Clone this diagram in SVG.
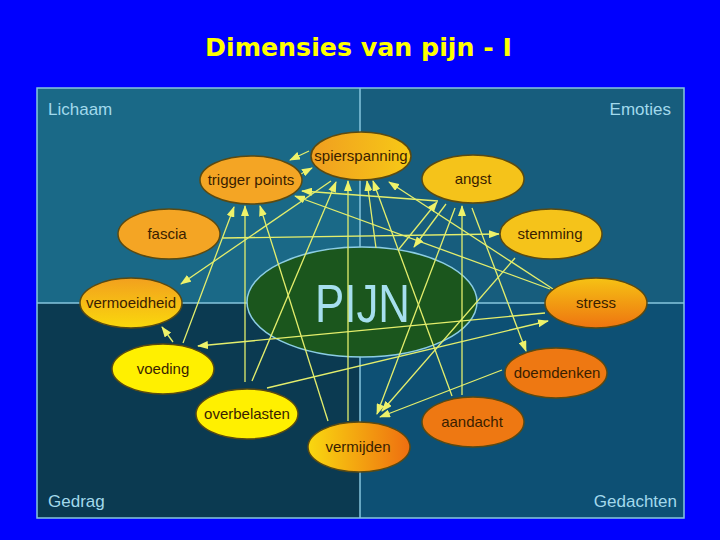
<svg xmlns="http://www.w3.org/2000/svg" width="720" height="540" viewBox="0 0 720 540">
<defs>
<style>
.node ellipse{stroke:#5a4a12;stroke-width:1.5}
.lbl{font-family:"Liberation Sans",Arial,sans-serif;font-size:15px;fill:#3a1e00;text-anchor:middle}
.q{font-family:"Liberation Sans",Arial,sans-serif;font-size:17px;fill:#a2d9ec}
.div{stroke:#86c6de;stroke-width:1.5;fill:none}
.c line{stroke:#e4ee6c;stroke-width:1.3;marker-end:url(#ah)}
</style>
<marker id="ah" markerWidth="11" markerHeight="8" refX="10" refY="4" orient="auto" markerUnits="userSpaceOnUse">
<path d="M0,0 L11,4 L0,8 z" fill="#eef26a"/>
</marker>
<linearGradient id="gSpier" x1="0" y1="0" x2="1" y2="0"><stop offset="0" stop-color="#f09e20"/><stop offset="1" stop-color="#f7c916"/></linearGradient>
<linearGradient id="gVerm" x1="0" y1="0" x2="0" y2="1"><stop offset="0" stop-color="#f2a01e"/><stop offset="1" stop-color="#fad80c"/></linearGradient>
<linearGradient id="gStress" x1="0" y1="0" x2="0" y2="1"><stop offset="0" stop-color="#f6c214"/><stop offset="1" stop-color="#ee7410"/></linearGradient>
<linearGradient id="gVermij" x1="0" y1="0" x2="1" y2="0"><stop offset="0" stop-color="#f9d810"/><stop offset="1" stop-color="#ee6e10"/></linearGradient>
</defs>
<rect x="0" y="0" width="720" height="540" fill="#0000fe"/>
<text x="358.5" y="56" font-family="'DejaVu Sans',Verdana,sans-serif" font-weight="bold" font-size="25" fill="#ffff00" text-anchor="middle" textLength="307" lengthAdjust="spacingAndGlyphs">Dimensies van pijn - I</text>

<g id="quadrants">
<rect x="37" y="88" width="323" height="215" fill="#1a6987"/>
<rect x="360" y="88" width="324" height="215" fill="#175d7d"/>
<rect x="37" y="303" width="323" height="215" fill="#0b3a51"/>
<rect x="360" y="303" width="324" height="215" fill="#0d5074"/>
<rect x="37" y="88" width="647" height="430" class="div"/>
<line x1="360" y1="88" x2="360" y2="518" class="div"/>
<line x1="37" y1="303" x2="684" y2="303" class="div"/>
<text class="q" x="48" y="115">Lichaam</text>
<text class="q" x="671" y="115" text-anchor="end">Emoties</text>
<text class="q" x="48" y="507">Gedrag</text>
<text class="q" x="677" y="507" text-anchor="end">Gedachten</text>
</g>

<g id="pijn">
<ellipse cx="362" cy="302" rx="115" ry="55" fill="#1b561d" stroke="#8ccde3" stroke-width="1.5"/>
<text x="362.5" y="322" font-family="'Liberation Sans',Arial,sans-serif" font-size="54" fill="#a6dfee" text-anchor="middle" textLength="95" lengthAdjust="spacingAndGlyphs">PIJN</text>
</g>

<g id="connectors" class="c">
<line x1="309" y1="151" x2="290" y2="160"/>
<line x1="299" y1="175" x2="312" y2="168"/>
<line x1="438" y1="201" x2="302" y2="191"/>
<line x1="550" y1="289" x2="295" y2="196"/>
<line x1="553" y1="289" x2="389" y2="182"/>
<line x1="376" y1="248" x2="367" y2="181"/>
<line x1="452" y1="396" x2="373" y2="181"/>
<line x1="348" y1="421" x2="348" y2="181"/>
<line x1="252" y1="381" x2="336" y2="182"/>
<line x1="245" y1="382" x2="245" y2="206"/>
<line x1="328" y1="421" x2="260" y2="206"/>
<line x1="183" y1="343" x2="234" y2="207"/>
<line x1="331" y1="181" x2="181" y2="284"/>
<line x1="173" y1="342" x2="162" y2="327"/>
<line x1="545" y1="313" x2="198" y2="346"/>
<line x1="267" y1="388" x2="548" y2="321"/>
<line x1="223" y1="238" x2="499" y2="234"/>
<line x1="446" y1="204" x2="414" y2="247"/>
<line x1="399" y1="249" x2="437" y2="202"/>
<line x1="462" y1="395" x2="462" y2="206"/>
<line x1="455" y1="208" x2="377" y2="414"/>
<line x1="515" y1="258" x2="382" y2="411"/>
<line x1="502" y1="370" x2="380" y2="417"/>
<line x1="472" y1="208" x2="526" y2="351"/>
</g>

<g id="n-spierspanning" class="node"><ellipse cx="361" cy="156" rx="50" ry="24" fill="url(#gSpier)"/><text class="lbl" x="361" y="161">spierspanning</text></g>
<g id="n-trigger" class="node"><ellipse cx="251" cy="180" rx="51" ry="24" fill="#f4a524"/><text class="lbl" x="251" y="185">trigger points</text></g>
<g id="n-angst" class="node"><ellipse cx="473" cy="179" rx="51" ry="24" fill="#f5c31a"/><text class="lbl" x="473" y="184">angst</text></g>
<g id="n-fascia" class="node"><ellipse cx="169" cy="234" rx="51" ry="25" fill="#f4a524"/><text class="lbl" x="167" y="239">fascia</text></g>
<g id="n-stemming" class="node"><ellipse cx="551" cy="234" rx="51" ry="25" fill="#f5c31a"/><text class="lbl" x="550" y="239">stemming</text></g>
<g id="n-vermoeidheid" class="node"><ellipse cx="131" cy="303" rx="51" ry="25" fill="url(#gVerm)"/><text class="lbl" x="131" y="308">vermoeidheid</text></g>
<g id="n-stress" class="node"><ellipse cx="596" cy="303" rx="51" ry="25" fill="url(#gStress)"/><text class="lbl" x="596" y="308">stress</text></g>
<g id="n-voeding" class="node"><ellipse cx="163" cy="369" rx="51" ry="25" fill="#fff000"/><text class="lbl" x="163" y="374">voeding</text></g>
<g id="n-doemdenken" class="node"><ellipse cx="556" cy="373" rx="51" ry="25" fill="#ee7812"/><text class="lbl" x="557" y="378">doemdenken</text></g>
<g id="n-overbelasten" class="node"><ellipse cx="247" cy="414" rx="51" ry="25" fill="#fff000"/><text class="lbl" x="247" y="419">overbelasten</text></g>
<g id="n-aandacht" class="node"><ellipse cx="473" cy="422" rx="51" ry="25" fill="#ee7812"/><text class="lbl" x="472" y="427">aandacht</text></g>
<g id="n-vermijden" class="node"><ellipse cx="359" cy="447" rx="51" ry="25" fill="url(#gVermij)"/><text class="lbl" x="358" y="452">vermijden</text></g>
</svg>
